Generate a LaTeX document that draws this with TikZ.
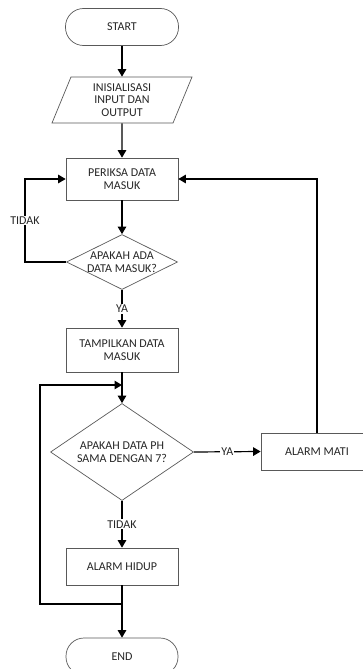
\documentclass[tikz,border=0pt]{standalone}
\usepackage{fontspec}
\setmainfont{Carlito}
\usetikzlibrary{shapes.geometric,arrows.meta}
\begin{document}
\begin{tikzpicture}[x=1pt,y=-1pt,
  font=\fontsize{12}{12.5}\selectfont,
  shp/.style={draw=black!65, line width=0.7pt, text=black!85, align=center, inner sep=0pt},
  proc/.style={shp, rectangle, minimum width=112pt, minimum height=42pt},
  term/.style={shp, rectangle, rounded corners=18pt, minimum width=113pt, minimum height=37pt},
  dec/.style={shp, diamond},
  io/.style={shp, trapezium, trapezium left angle=60, trapezium right angle=120, trapezium stretches body, minimum width=140pt, minimum height=46pt},
  conn/.style={line width=1.2pt, black},
  arr/.style={conn, -{Triangle[width=8.5pt,length=7.5pt]}},
  lbl/.style={fill=white, inner sep=1pt, text=black!85},
  ctext/.style={align=center, text=black!85, inner sep=0pt}
]
\useasboundingbox (0,0) rectangle (363,669);
\node[term] (start) at (122,27) {START};
\node[io] (init) at (122,100) {INISIALISASI\\INPUT DAN\\OUTPUT};
\node[proc] (cek) at (122,179) {PERIKSA DATA\\MASUK};
\node[dec, minimum width=111pt, minimum height=55pt,
  label={[ctext]center:APAKAH ADA\\DATA MASUK?}] (d1) at (122,262) {};
\node[proc, minimum height=44pt] (tamp) at (122,350) {TAMPILKAN DATA\\MASUK};
\node[dec, minimum width=143pt, minimum height=97pt,
  label={[ctext]center:APAKAH DATA PH\\SAMA DENGAN 7?}] (d2) at (122,452) {};
\node[proc, minimum width=112pt, minimum height=37pt] (mati) at (317,451.5) {ALARM MATI};
\node[proc, minimum height=37pt] (hidup) at (122,566.5) {ALARM HIDUP};
\node[term, minimum width=112pt] (end) at (122,656.5) {END};

\coordinate (t1) at (25,262);
\coordinate (t2) at (25,179);
\coordinate (j1) at (122,385);
\coordinate (j2) at (122,604);
\coordinate (l1) at (40,604);
\coordinate (l2) at (40,385);

\draw[arr] (start) -- (init);
\draw[arr] (init) -- (cek);
\draw[arr] (cek) -- (d1);
\draw[arr] (d1.west) -- (t1) -- node[lbl]{TIDAK} (t2) -- (cek.west);
\draw[arr] (d1) -- node[lbl]{YA} (tamp);
\draw[arr] (tamp) -- (d2);
\draw[arr] (d2) -- node[lbl]{TIDAK} (hidup);
\draw[arr] (d2.east) -- node[lbl]{YA} (mati.west);
\draw[arr] (mati.north) -- (mati.north |- cek.east) -- (cek.east);
\draw[arr] (hidup) -- (end);
\draw[arr] (j2) -- (l1) -- (l2) -- (j1);
\end{tikzpicture}
\end{document}
